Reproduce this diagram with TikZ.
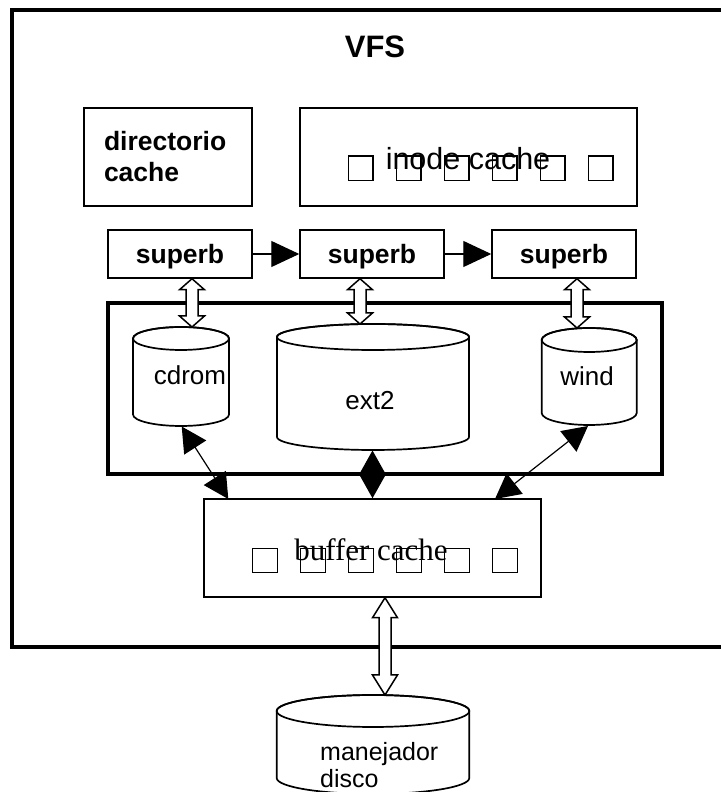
\documentclass[tikz,border=0pt]{standalone}
\usepackage{fontspec}
\setmainfont{Liberation Serif}
\setsansfont{Liberation Sans}
\usetikzlibrary{arrows.meta,calc}
\newcommand{\drawdrum}[5]{% center x, x radius, top y, y radius, bottom y
  \filldraw[drumline, fill=white] ({#1-#2},{#3-#4}) -- ({#1-#2},{#5+#4})
    arc[start angle=180,end angle=360,x radius=#2,y radius=#4] -- ({#1+#2},{#3-#4})
    arc[start angle=0,end angle=180,x radius=#2,y radius=#4] -- cycle;
  \draw[drumline] ({#1},{#3-#4}) ellipse[x radius=#2, y radius=#4];
}
\newcommand{\hollowdbl}[3]{% top point, bottom point (gives x), head length
  \draw[hollow] let \p1=#1, \p2=#2 in
   (\x2,\y1) -- (\x2+12.5pt,\y1-#3) -- (\x2+6pt,\y1-#3) -- (\x2+6pt,\y2+#3)
   -- (\x2+12.5pt,\y2+#3) -- (\x2,\y2) -- (\x2-12.5pt,\y2+#3) -- (\x2-6pt,\y2+#3)
   -- (\x2-6pt,\y1-#3) -- (\x2-12.5pt,\y1-#3) -- cycle;}
\begin{document}
\begin{tikzpicture}[x=1pt,y=1pt,
  frame/.style={draw, line width=3.5pt, inner sep=0pt},
  box/.style={draw, line width=1.5pt, inner sep=0pt},
  sq/.style={draw, line width=1.2pt, minimum size=24.5pt, inner sep=0pt},
  drumline/.style={line width=1.7pt},
  hollow/.style={draw, fill=white, line width=1.5pt, line join=miter},
  bigbold/.style={font=\sffamily\bfseries\fontsize{26.5}{31}\selectfont},
  cyltext/.style={font=\sffamily\fontsize{26}{30}\selectfont, inner sep=0pt},
  chain/.style={line width=1.3pt, -{Triangle[length=28pt,width=26pt]}},
  dbl/.style={line width=1.2pt, {Triangle[length=25pt,width=26pt]}-{Triangle[length=25pt,width=26pt]}},
  dblshort/.style={line width=1.2pt, {Triangle[length=23.5pt,width=26pt]}-{Triangle[length=23.5pt,width=26pt]}}
]
\useasboundingbox (0,0) rectangle (720,792);

% outer VFS frame
\node[frame, minimum width=720pt, minimum height=637pt] (outer) at (372,463.5) {};
\node[anchor=base, font=\sffamily\bfseries\fontsize{31}{36}\selectfont, inner sep=0pt] (vfs) at (375,734) {VFS};

% top boxes
\node[box, minimum width=168pt, minimum height=98pt, text width=128pt, inner xsep=20pt, align=left, bigbold] (dircache) at (168,635) {directorio\\cache};
\node[box, minimum width=337pt, minimum height=98pt] (inode) at (468.5,635) {};
\foreach \i in {0,...,5} \node[sq] (isq\i) at ({360.8+48*\i},623.8) {};
\node[anchor=base, inner sep=0pt, font=\sffamily\fontsize{30.5}{34}\selectfont] (inodetxt) at (468,622.5) {inode cache};

% superblocks
\node[box, minimum width=144pt, minimum height=48pt, bigbold, text height=22pt, text depth=2pt] (sb1) at (180,538) {superb};
\node[box, minimum width=144pt, minimum height=48pt, bigbold, text height=22pt, text depth=2pt] (sb2) at (372,538) {superb};
\node[box, minimum width=144pt, minimum height=48pt, bigbold, text height=22pt, text depth=2pt] (sb3) at (564,538) {superb};
\draw[chain] (sb1.east) -- (sb2.west);
\draw[chain] (sb2.east) -- (sb3.west);

% file-system frame
\node[frame, minimum width=554pt, minimum height=171pt] (fsframe) at (385,403.5) {};

% cylinders
\drawdrum{181}{48}{465}{11.5}{366}
\drawdrum{373}{96}{468}{13}{342}
\drawdrum{589.2}{47.5}{464}{12}{367}
\node[cyltext, anchor=base] (cdrom) at (190,407) {cdrom};
\node[cyltext, anchor=base] (ext2) at (370,382) {ext2};
\node[cyltext, anchor=base] (wind) at (587,406) {wind};

\coordinate (cdrom-in) at (192,465);
\coordinate (ext2-in) at (360,468);
\coordinate (wind-in) at (577,464);
\coordinate (cdrom-out) at (181.7,365.5);
\coordinate (ext2-out) at (372.5,341.5);
\coordinate (wind-out) at (588,366);

\hollowdbl{(sb1.south)}{(cdrom-in)}{11pt}
\hollowdbl{(sb2.south)}{(ext2-in)}{11pt}
\hollowdbl{(sb3.south)}{(wind-in)}{11pt}

% buffer cache
\node[box, minimum width=337pt, minimum height=98pt] (buffer) at (372.5,244) {};
\foreach \i in {0,...,5} \node[sq] (bsq\i) at ({265+48*\i},231.5) {};
\node[anchor=base, inner sep=0pt, font=\rmfamily\fontsize{31}{35}\selectfont] (buftxt) at (371,231) {buffer cache};
\coordinate (buf-l) at (228.3,293);
\coordinate (buf-r) at (495,293);

\draw[dbl] (cdrom-out) -- (buf-l);
\draw[dblshort] (ext2-out) -- (buffer.north);
\draw[dbl] (wind-out) -- (buf-r);

% disk driver
\drawdrum{373}{96.3}{97}{16}{-2}
\coordinate (disk-in) at (385,97);
\hollowdbl{(buffer.south)}{(disk-in)}{20pt}
\node[cyltext, anchor=base west, font=\sffamily\fontsize{25}{29}\selectfont] (manejador) at (320,31) {manejador};
\node[cyltext, anchor=base west, font=\sffamily\fontsize{25}{29}\selectfont] (disco) at (320,5) {disco};
\end{tikzpicture}
\end{document}
